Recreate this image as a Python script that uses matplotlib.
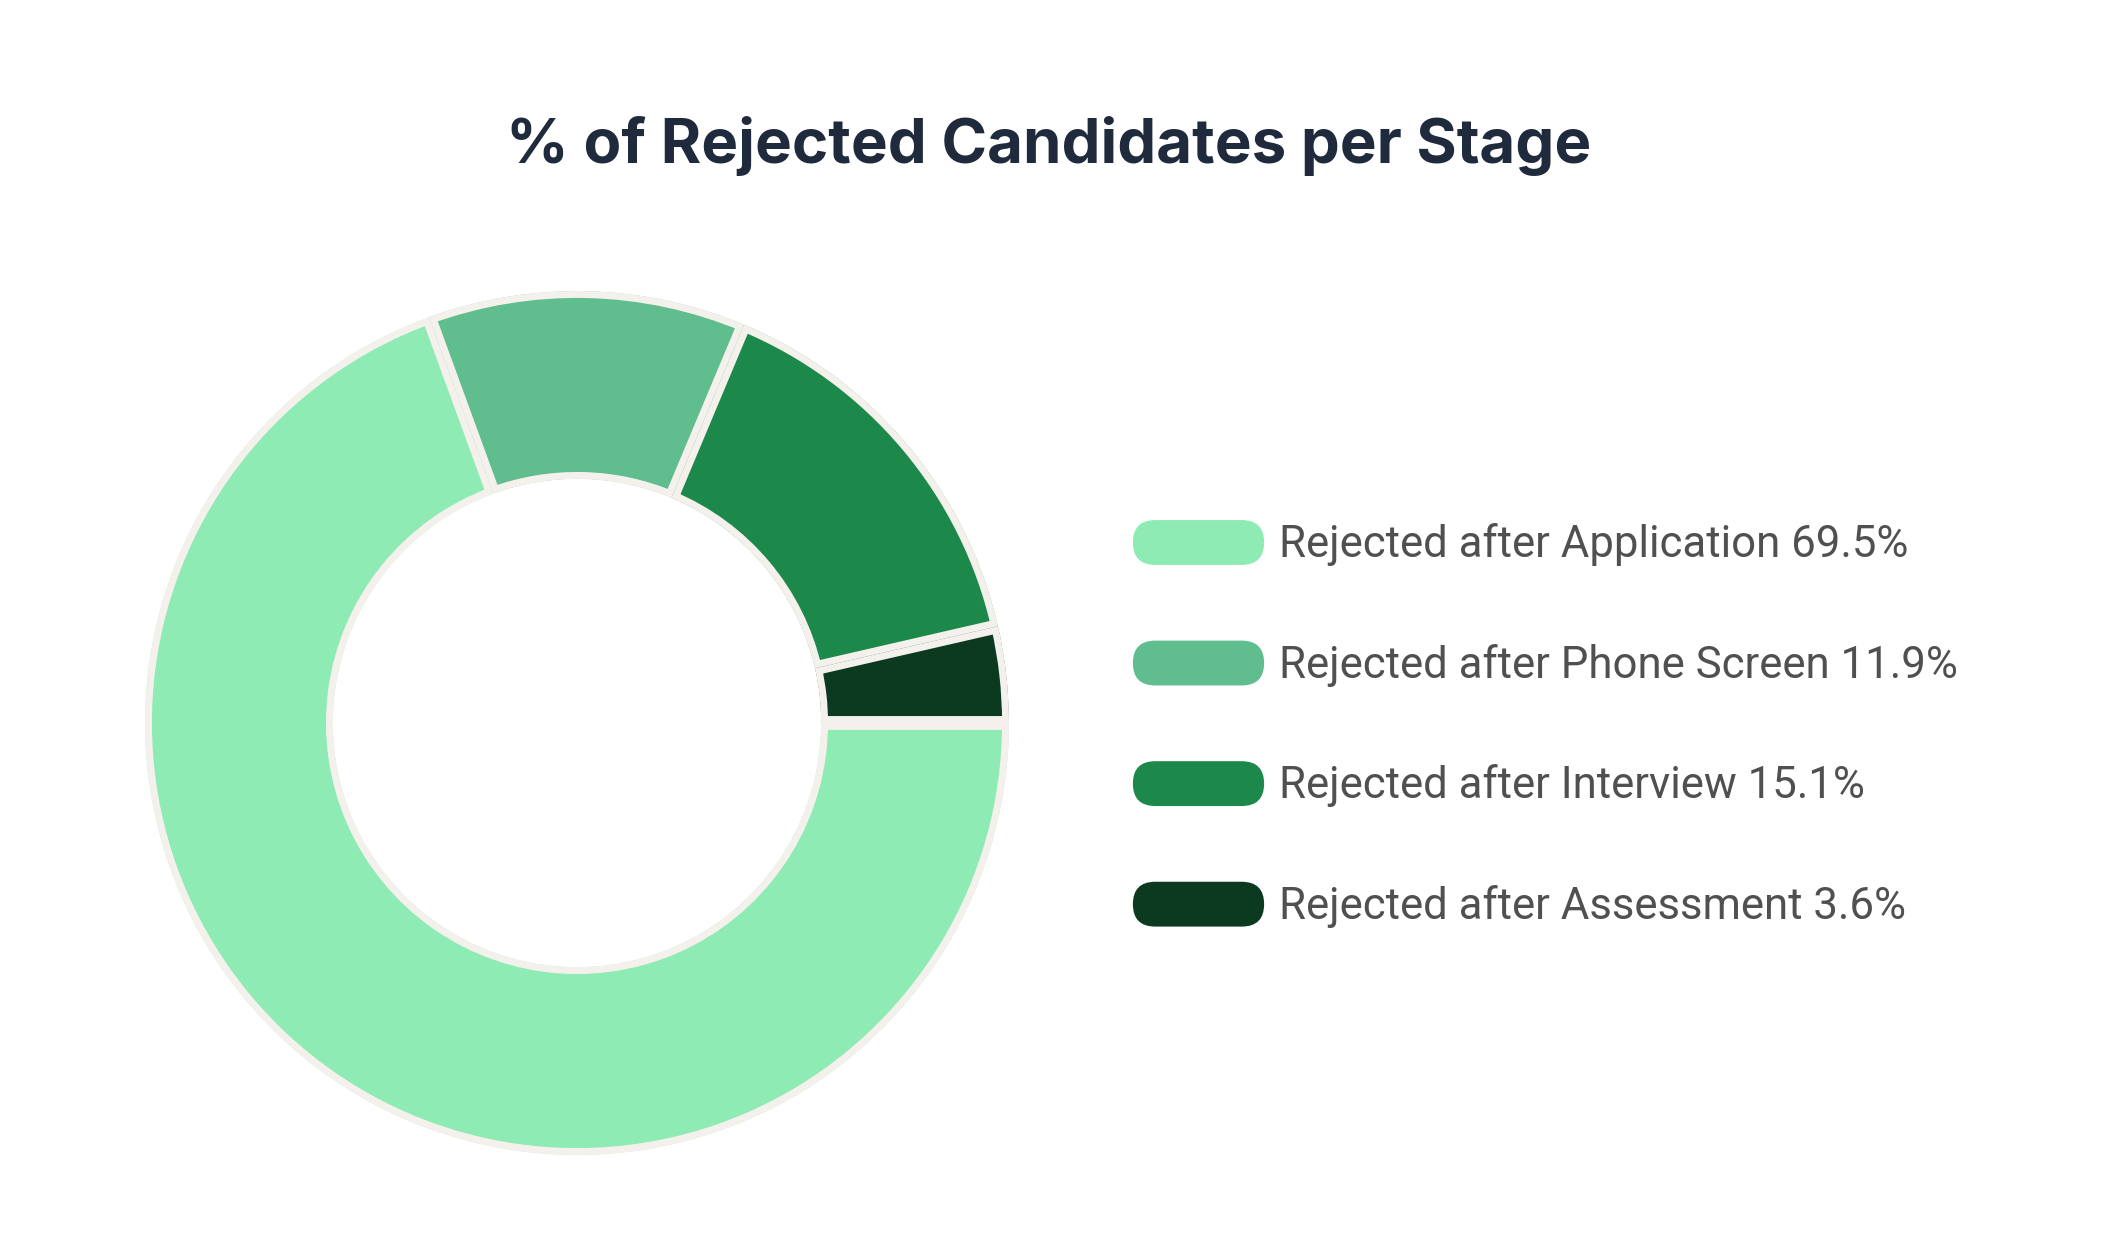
import matplotlib
matplotlib.use('Agg')
import matplotlib.pyplot as plt
from matplotlib.patches import FancyBboxPatch
from matplotlib.legend_handler import HandlerPatch

stages = [
    'Rejected after Application',
    'Rejected after Phone Screen',
    'Rejected after Interview',
    'Rejected after Assessment',
]
shares = [69.5, 11.9, 15.1, 3.6]
colors = ['#8eebb3', '#5fbd8e', '#1c884a', '#0c3a21']
edge_color = '#f4f1ec'


class RoundedHandler(HandlerPatch):
    def create_artists(self, legend, orig_handle, xdescent, ydescent,
                       width, height, fontsize, trans):
        box = FancyBboxPatch(
            (-xdescent, -ydescent), width, height,
            boxstyle=f'round,pad=0,rounding_size={height * 0.5}',
            facecolor=orig_handle.get_facecolor(), edgecolor='none',
            transform=trans,
        )
        return [box]


W, H, DPI = 2102, 1260, 100
fig = plt.figure(figsize=(W / DPI, H / DPI), dpi=DPI)
fig.patch.set_facecolor('white')

# donut axes, in pixels: centre (577, 723), outer radius ~432
lim = 1.05
r_px = 432
side = 2 * r_px * lim
ax = fig.add_axes([(577 - side / 2) / W, (H - 723 - side / 2) / H, side / W, side / H])

wedges, _ = ax.pie(
    shares,
    colors=colors,
    startangle=0,
    counterclock=False,
    radius=1.0,
    wedgeprops=dict(width=0.435, edgecolor=edge_color, linewidth=10, joinstyle='round'),
)
# keep only the inner half of each border stroke -> gap between segments
for w in wedges:
    w.set_clip_on(True)
    w.set_clip_path(w)
ax.set_xlim(-lim, lim)
ax.set_ylim(-lim, lim)
ax.set_aspect('equal')
ax.axis('off')

fig.text(0.499, 0.884, '% of Rejected Candidates per Stage', ha='center', va='center',
         fontsize=44.5, fontweight='bold', family=['Inter', 'DejaVu Sans'], color='#1f2a3c')

labels = [f'{s} {v}%' for s, v in zip(stages, shares)]
leg = fig.legend(
    wedges, labels,
    loc='center left',
    bbox_to_anchor=(1111 / W, 1 - 724 / H),
    frameon=False,
    prop={'family': ['Roboto', 'DejaVu Sans'], 'size': 31.5},
    handlelength=3.0,
    handleheight=1.2,
    handletextpad=0.35,
    labelspacing=1.70,
    labelcolor='#505050',
    borderpad=0,
    handler_map={w: RoundedHandler() for w in wedges},
)

fig.savefig('out.png', dpi=DPI, facecolor='white')
